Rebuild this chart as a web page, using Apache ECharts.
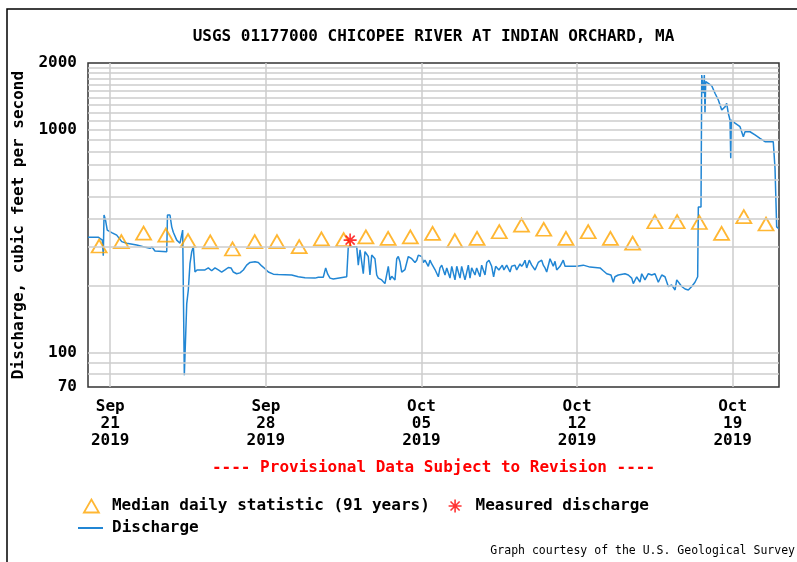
<!DOCTYPE html>
<html>
<head>
<meta charset="utf-8">
<title>USGS 01177000 Chicopee River</title>
<script src="https://cdn.jsdelivr.net/npm/echarts@6/dist/echarts.min.js"></script>
<style>
  html, body { margin: 0; padding: 0; background: #fff; }
  #chart { width: 797px; height: 562px; }
</style>
</head>
<body>
<div id="chart"></div>
<script>
// hours after 2019-09-20 00:00 and the 15-min discharge (cfs)
const dischargeHours = [
  0, 11, 15.5, 16.5, 17.3, 18.9, 20.8, 25.6, 31, 36.4, 41.8, 52.6, 59.7, 66.9, 69.1, 72.3,
  85, 85.8, 88.5, 90.4, 92.1, 95.8, 99.3, 101.2, 102.2, 103, 104, 104.7, 106.6, 108.3, 110.1,
  112, 113.7, 115.5, 117.7, 126.3, 129.9, 133.5, 137.1, 140.7, 144.3, 147.9, 151.5, 154.4,
  156.9, 160.5, 164.1, 167.7, 171.3, 174.9, 180.3, 183.9, 187.5, 191.1, 194.7, 200.1, 205.4,
  219.9, 227, 234.3, 245.1, 248.6, 254, 256.6, 258.8, 261.3, 264.8, 266.7, 279.3, 281,
  282.9, 290.1, 291.8, 293.7, 295.5, 297.2, 299, 302.6, 304.4, 306.3, 309.8, 311.7, 313.4,
  317.1, 320.6, 322.5, 324.2, 326, 327.9, 331.4, 333.3, 335, 336.8, 338.7, 342.2, 345.8,
  349.5, 353, 354.9, 356.6, 360.3, 362, 363.8, 367.4, 369.2, 371.1, 372.8, 374.6, 376.5,
  378.2, 380, 381.9, 385.4, 387.3, 390.8, 392.7, 396.2, 398.1, 401.6, 403.4, 407, 410.6,
  412.4, 414.2, 417.8, 419.6, 423.2, 425, 428.6, 430.5, 432.9, 435.8, 437.9, 440.1, 443.6,
  447.3, 449, 452, 455.6, 457.4, 461, 462.8, 466.4, 468.2, 470, 471.8, 473.6, 476.4, 479,
  482.6, 486.1, 489.8, 491.5, 493.4, 495.2, 498.8, 500.6, 502.3, 504.2, 506, 509.6, 513.1,
  515, 518.5, 527.6, 534.7, 542, 552.8, 556.3, 560, 564.6, 567.1, 568.9, 572.5, 579.7,
  583.3, 587, 588.7, 592.4, 595.9, 597.8, 601.3, 604.9, 608.6, 612.1, 615.7, 619.4, 622.9,
  626.5, 630.2, 633.8, 635.6, 637.3, 641, 644.6, 648.1, 651.8, 655.3, 658.2, 658.9, 661.8,
  662.6, 664.3, 665.4, 666.1, 666.9, 669.7, 673.4, 676.9, 680.5, 684.2, 687.7, 689.5, 691.3,
  693.1, 693.9, 694.5, 698.5, 703.9, 707.5, 709.3, 714.7, 720.1, 725.5, 730.9, 739.8, 741.7,
  743.5, 745.5
];
const dischargeCfs = [
  330, 330, 320, 272, 415, 394, 355, 346, 337, 315, 310, 304, 299, 294, 298, 286,
  284, 415, 415, 367, 347, 320, 310, 315, 355, 355, 79, 79, 166, 191, 251,
  284, 299, 230, 235, 235, 240, 233, 240, 235, 230, 235, 241, 240,
  230, 226, 228, 235, 247, 254, 256, 254, 245, 238, 230, 225, 224,
  223, 219, 217, 216, 218, 218, 240, 225, 216, 214, 218, 219, 299,
  299, 299, 247, 289, 284, 226, 284, 270, 223, 274, 264, 223, 216,
  212, 204, 207, 244, 212, 220, 212, 264, 270, 256, 230, 236, 270,
  264, 254, 260, 274, 270, 254, 260, 244, 260, 250, 247, 236, 240,
  219, 240, 247, 223, 240, 216, 244, 212, 244, 216, 244, 212, 247,
  216, 240, 223, 240, 219, 247, 223, 254, 260, 244, 219, 244, 235,
  247, 235, 247, 230, 244, 247, 235, 250, 244, 250, 260, 240, 260, 247,
  235, 254, 260, 247, 240, 230, 264, 260, 244, 257, 235, 244, 260,
  244, 244, 244, 247, 242, 240, 233, 226, 223, 207, 219, 223, 226,
  223, 216, 204, 219, 207, 226, 212, 226, 223, 226, 207, 223, 219,
  198, 201, 191, 212, 216, 198, 193, 191, 198, 207, 219, 451, 451,
  1767, 1462, 1767, 1188, 1650, 1620, 1580, 1462, 1364, 1230, 1270, 1318, 1188,
  1109, 746, 1109, 1073, 1035, 933, 982, 982, 950, 917, 886, 886, 673,
  367, 361
];

// median daily statistic, plotted at noon of each day
const medianDates = [
  '2019-09-20', '2019-09-21', '2019-09-22', '2019-09-23', '2019-09-24', '2019-09-25',
  '2019-09-26', '2019-09-27', '2019-09-28', '2019-09-29', '2019-09-30', '2019-10-01',
  '2019-10-02', '2019-10-03', '2019-10-04', '2019-10-05', '2019-10-06', '2019-10-07',
  '2019-10-08', '2019-10-09', '2019-10-10', '2019-10-11', '2019-10-12', '2019-10-13',
  '2019-10-14', '2019-10-15', '2019-10-16', '2019-10-17', '2019-10-18', '2019-10-19',
  '2019-10-20'
];
const medianCfs = [
  301, 315, 344, 337, 318, 314, 292, 315, 315, 299, 324, 322, 331, 326, 331, 343,
  318, 326, 349, 374, 358, 326, 349, 326, 310, 387, 387, 384, 343, 408, 378
];

// field measurement
const measuredHours = [283];
const measuredCfs = [320];

const tickDates = ['2019-09-21', '2019-09-28', '2019-10-05', '2019-10-12', '2019-10-19'];
const gridValues = [80, 90, 100, 200, 300, 400, 500, 600, 700, 800, 900, 1000,
  1100, 1200, 1300, 1400, 1500, 1600, 1700, 1800, 1900];
const monthNames = ['Jan', 'Feb', 'Mar', 'Apr', 'May', 'Jun', 'Jul', 'Aug', 'Sep', 'Oct', 'Nov', 'Dec'];

const HOUR = 3600 * 1000;
const startTime = new Date(2019, 8, 20).getTime();
const endTime = startTime + 746 * HOUR;

const toTime = (str, hour) => {
  const [y, m, d] = str.split('-').map(Number);
  return new Date(y, m - 1, d, hour || 0).getTime();
};
const pad = n => String(n).padStart(2, '0');

const FONT = 'DejaVu Sans Mono';
const bigText = { fontFamily: FONT, fontWeight: 'bold', fontSize: 16, color: '#000' };
const tickTimes = tickDates.map(d => toTime(d));

const chart = echarts.init(document.getElementById('chart'), null, { renderer: 'canvas' });

const option = {
  backgroundColor: '#fff',
  animation: false,
  grid: {
    left: 88, top: 63, right: 18, bottom: 175,
    outerBoundsMode: 'none',
    show: true, borderColor: '#333', borderWidth: 1.5, backgroundColor: 'transparent'
  },
  xAxis: {
    // timestamps on a plain value axis so the labels can sit on chosen dates
    type: 'value',
    min: startTime,
    max: endTime,
    axisLine: { show: false },
    axisTick: { show: false, customValues: tickTimes },
    splitLine: { show: false },
    axisLabel: {
      customValues: tickTimes,
      ...bigText,
      lineHeight: 17,
      margin: 11,
      formatter: value => {
        const d = new Date(value);
        return monthNames[d.getMonth()] + '\n' + pad(d.getDate()) + '\n' + d.getFullYear();
      }
    }
  },
  yAxis: {
    type: 'log',
    logBase: 10,
    min: 70,
    max: 2000,
    name: 'Discharge, cubic feet per second',
    nameLocation: 'middle',
    nameGap: 61,
    nameTextStyle: bigText,
    axisLine: { show: false },
    axisTick: { show: false },
    splitLine: { show: false },
    axisLabel: { ...bigText, margin: 11, formatter: v => String(Math.round(v)) }
  },
  legend: [
    {
      left: 83, top: 497, padding: 0, itemGap: 18,
      itemWidth: 15, itemHeight: 13,
      selectedMode: false,
      textStyle: { ...bigText, lineHeight: 18, padding: [0, 0, 0, 8] },
      data: [
        {
          name: 'Median daily statistic (91 years)', icon: 'triangle',
          itemStyle: { color: 'rgba(0,0,0,0)', borderColor: '#ffa500', borderWidth: 1.8 }
        },
        {
          name: 'Measured discharge',
          itemStyle: { color: '#ff0000', borderColor: '#ff0000', borderWidth: 1.6 }
        }
      ]
    },
    {
      left: 78, top: 519, padding: 0,
      itemWidth: 25, itemHeight: 2,
      selectedMode: false,
      textStyle: { ...bigText, lineHeight: 18, padding: [0, 0, 0, 4] },
      data: [{ name: 'Discharge', icon: 'rect', itemStyle: { color: '#2186d4' } }]
    }
  ],
  series: [
    {
      // light grid lines of the hydrograph
      name: 'grid',
      type: 'line',
      data: [],
      z: 1,
      silent: true,
      markLine: {
        silent: true,
        symbol: ['none', 'none'],
        label: { show: false },
        lineStyle: { color: '#cccccc', width: 1.5, type: 'solid' },
        emphasis: { disabled: true },
        data: gridValues.map(v => ({ yAxis: v }))
          .concat(tickTimes.map(t => ({ xAxis: t })))
      }
    },
    {
      name: 'Discharge',
      type: 'line',
      z: 2,
      symbol: 'none',
      lineStyle: { color: '#2186d4', width: 1.5 },
      itemStyle: { color: '#2186d4' },
      data: dischargeHours.map((h, i) => [startTime + h * HOUR, dischargeCfs[i]])
    },
    {
      name: 'Median daily statistic (91 years)',
      type: 'scatter',
      z: 3,
      symbol: 'triangle',
      symbolSize: [15, 13],
      itemStyle: { color: 'rgba(0,0,0,0)', borderColor: '#ffa500', borderWidth: 1.8 },
      data: medianDates.map((d, i) => [toTime(d, 12), medianCfs[i]])
    },
    {
      name: 'Measured discharge',
      type: 'scatter',
      z: 4,
      symbol: 'path://M0,6L12,6M6,0L6,12M1.8,1.8L10.2,10.2M10.2,1.8L1.8,10.2',
      symbolSize: 13,
      itemStyle: { color: '#ff0000', borderColor: '#ff0000', borderWidth: 1.6 },
      data: measuredHours.map((h, i) => [startTime + h * HOUR, measuredCfs[i]])
    }
  ],
  graphic: [
    {
      type: 'rect', z: -1, silent: true,
      shape: { x: 7, y: 9, width: 800, height: 570 },
      style: { fill: 'none', stroke: '#000', lineWidth: 1.5 }
    },
    {
      type: 'text', x: 433.5, y: 37,
      style: {
        text: 'USGS 01177000 CHICOPEE RIVER AT INDIAN ORCHARD, MA',
        align: 'center', verticalAlign: 'middle',
        font: 'bold 16px "DejaVu Sans Mono"', fill: '#000'
      }
    },
    {
      type: 'text', x: 433.5, y: 468,
      style: {
        text: '---- Provisional Data Subject to Revision ----',
        align: 'center', verticalAlign: 'middle',
        font: 'bold 16px "DejaVu Sans Mono"', fill: '#ff0000'
      }
    },
    {
      type: 'text', x: 795, y: 551,
      style: {
        text: 'Graph courtesy of the U.S. Geological Survey',
        align: 'right', verticalAlign: 'middle',
        font: '11.5px "DejaVu Sans Mono"', fill: '#000'
      }
    }
  ]
};

chart.setOption(option);
</script>
</body>
</html>
